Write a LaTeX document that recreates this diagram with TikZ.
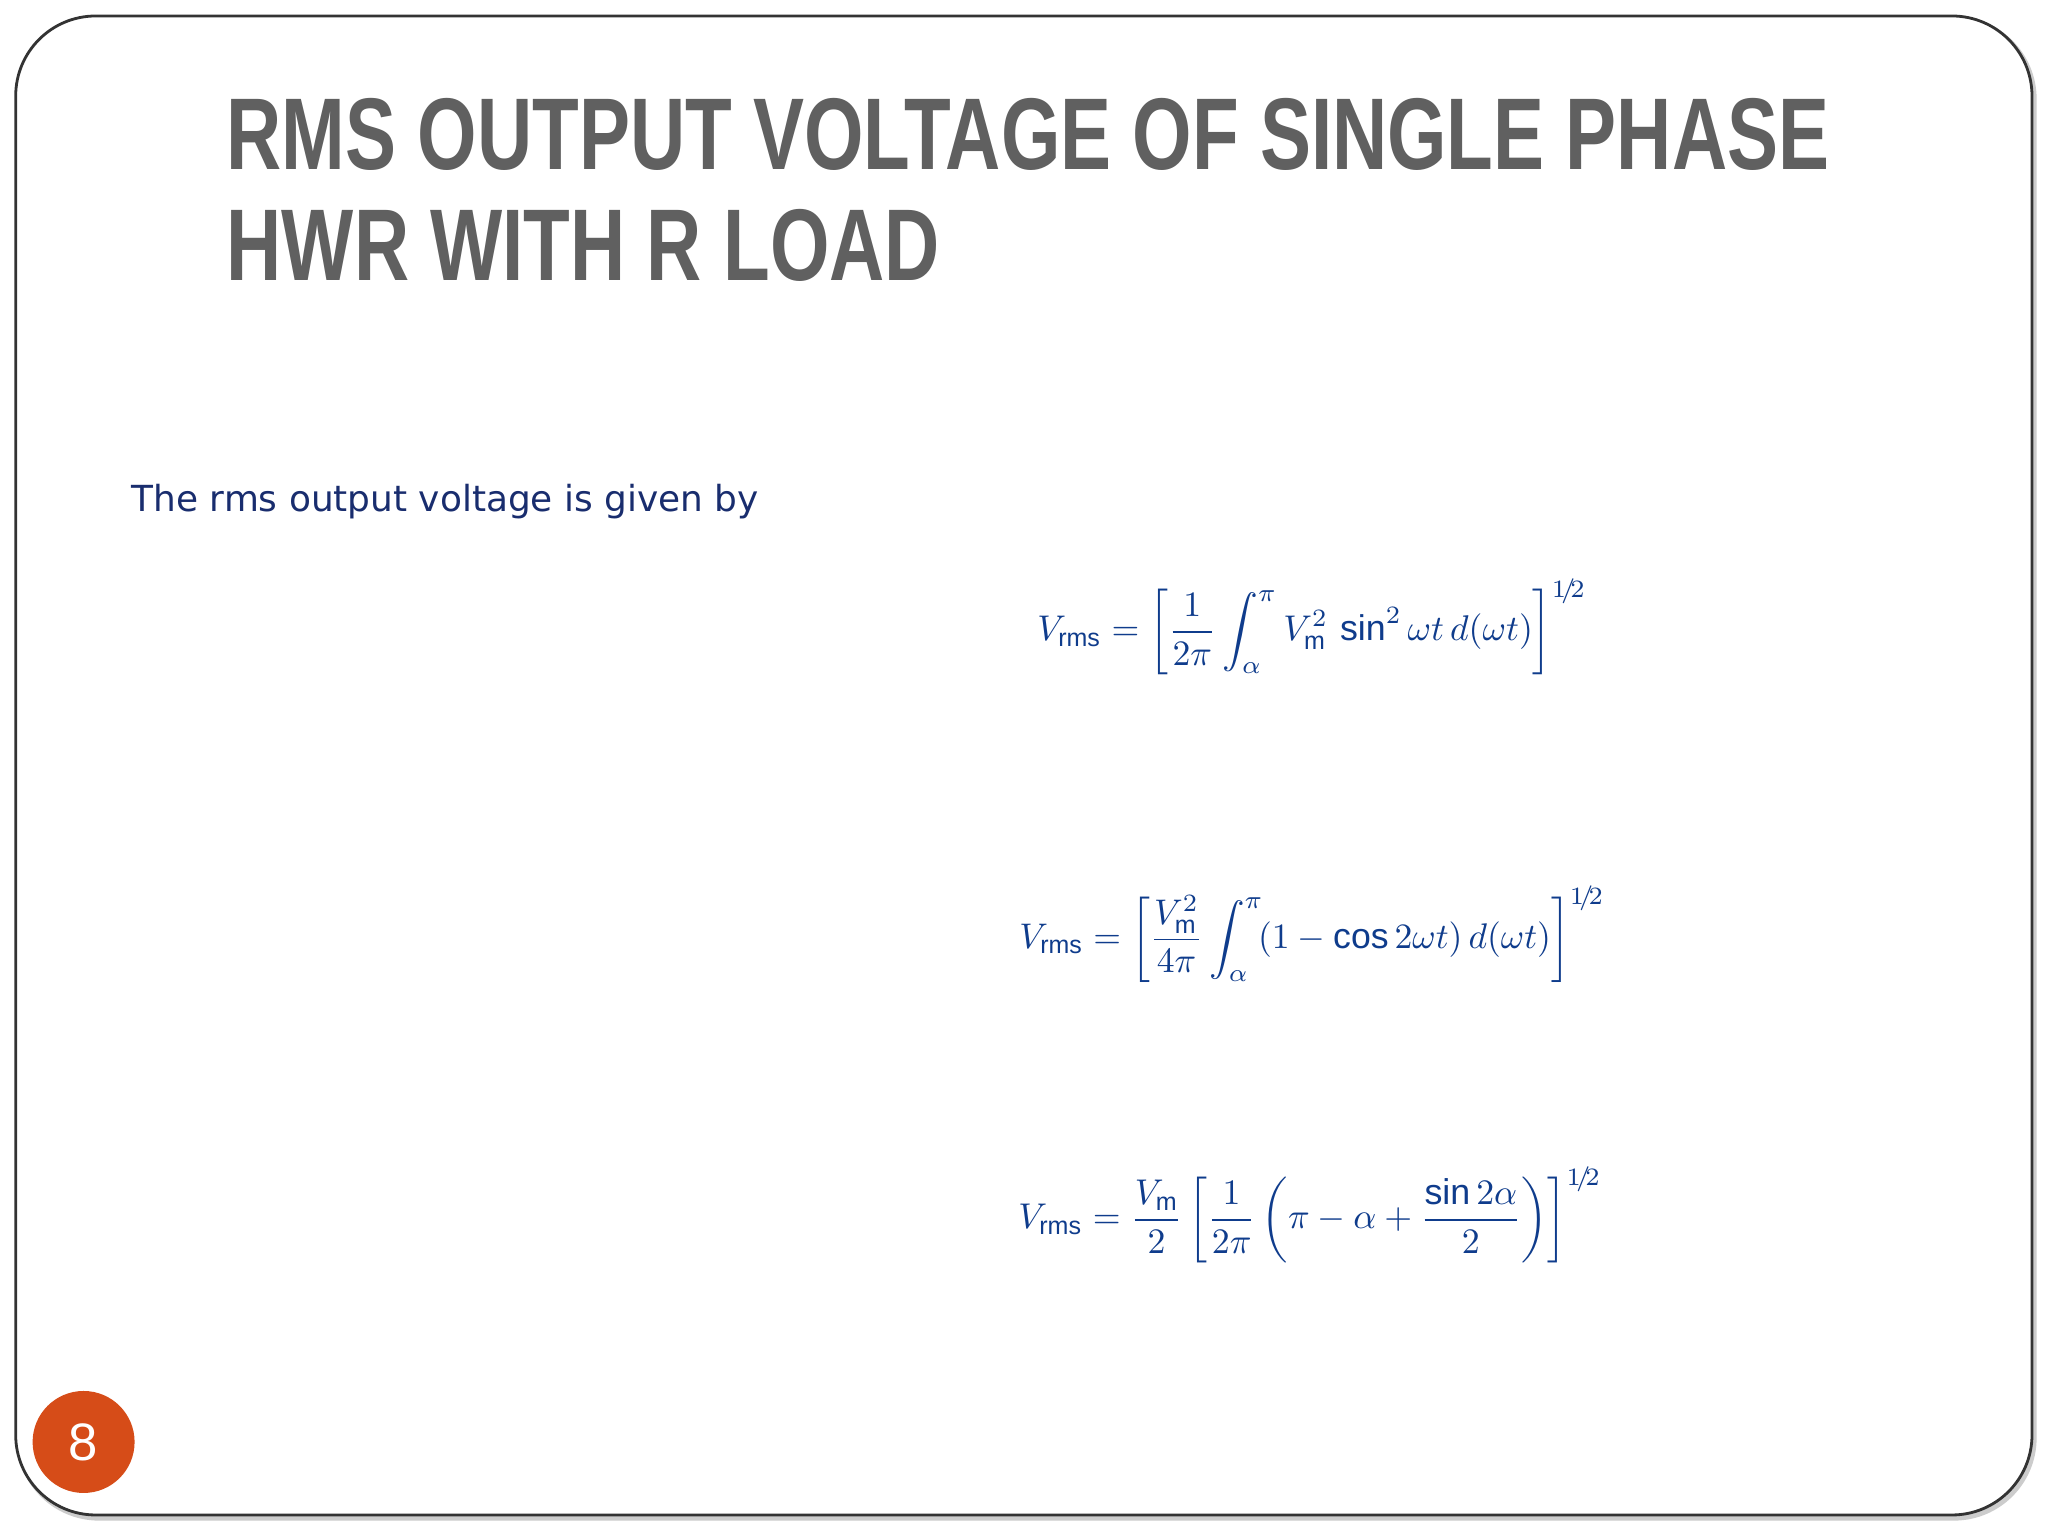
\documentclass[tikz,border=0pt]{standalone}
\usepackage{fontspec}
\usepackage{amsmath}
\setmainfont{Liberation Sans}
\newfontfamily\bodyfont{DejaVu Sans}
\definecolor{titlegray}{RGB}{96,96,96}
\definecolor{textblue}{RGB}{25,45,110}
\definecolor{eqblue}{RGB}{15,60,140}
\definecolor{badge}{RGB}{214,76,24}
\tikzset{eq/.style={text=eqblue,inner sep=0pt,anchor=center},
 title/.style={text=titlegray,anchor=base west,inner sep=0pt,font=\fontsize{29}{34}\selectfont\bfseries}}
\begin{document}
\begin{tikzpicture}
\useasboundingbox (0,0) rectangle (20.48,15.36);
\fill[white] (0,0) rectangle (20.48,15.36);
\draw[gray!40,line width=1.5pt,rounded corners=0.8cm] (0.19,0.18) rectangle (20.34,15.17);
\draw[black!80,line width=0.8pt,fill=white,rounded corners=0.8cm] (0.157,0.21) rectangle (20.32,15.20);
\node[title] (t1) at (2.26,13.66) {\scalebox{0.75}[1]{RMS OUTPUT VOLTAGE OF SINGLE PHASE}};
\node[title] (t2) at (2.26,12.55) {\scalebox{0.75}[1]{HWR WITH R LOAD}};
\node[anchor=base west,inner sep=0pt,text=textblue] (tx) at (1.31,10.24) {\resizebox{6.27cm}{!}{\bodyfont The rms output voltage is given by}};
\node[eq] (e1) at (13.12,9.09) {\resizebox{5.49cm}{!}{$\displaystyle V_{\mathrm{rms}}=\left[\frac{1}{2\pi}\int_{\alpha}^{\pi}V_{\mathrm{m}}^{2}\,\sin^{2}\omega t\,d(\omega t)\right]^{1\!/\!2}$}};
\node[eq] (e2) at (13.12,6.02) {\resizebox{5.85cm}{!}{$\displaystyle V_{\mathrm{rms}}=\left[\frac{V_{\mathrm{m}}^{2}}{4\pi}\int_{\alpha}^{\pi}\!(1-\cos 2\omega t)\,d(\omega t)\right]^{1\!/\!2}$}};
\node[eq] (e3) at (13.10,3.21) {\resizebox{5.83cm}{!}{$\displaystyle V_{\mathrm{rms}}=\frac{V_{\mathrm{m}}}{2}\left[\frac{1}{2\pi}\left(\pi-\alpha+\frac{\sin 2\alpha}{2}\right)\right]^{1\!/\!2}$}};
\node[circle,fill=badge,minimum size=1.02cm,inner sep=0pt,text=white,font=\fontsize{15}{15}\selectfont] (pg) at (0.836,0.94) {8};
\end{tikzpicture}
\end{document}
